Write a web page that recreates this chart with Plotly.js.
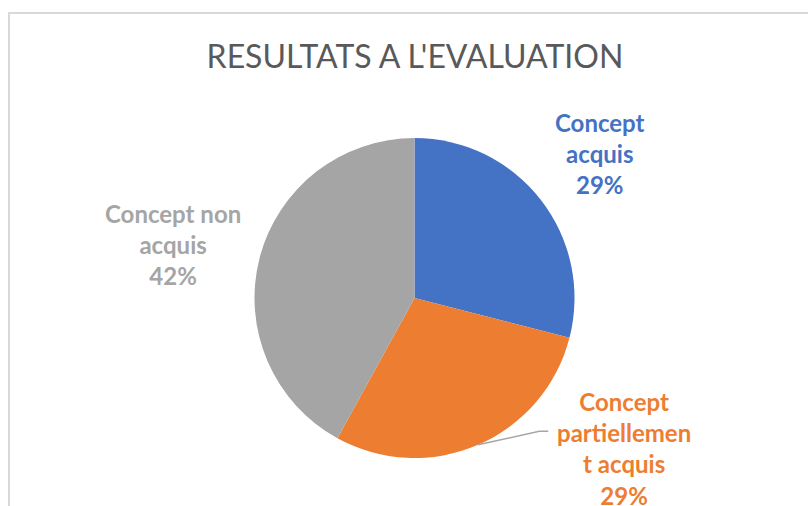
<!DOCTYPE html>
<html>
<head>
<meta charset="utf-8">
<script src="https://cdn.plot.ly/plotly-3.0.1.min.js"></script>
<style>
  body { margin: 0; background: #fff; }
  #chart { width: 808px; height: 506px; }
</style>
</head>
<body>
<div id="chart"></div>
<script>
// data
const categories = ['Concept acquis', 'Concept partiellement acquis', 'Concept non acquis'];
const shares = [29, 29, 42];
const labelLines = ['Concept<br>acquis', 'Concept<br>partiellemen<br>t acquis', 'Concept non<br>acquis'];
const sliceColors = ['#4472C4', '#ED7D31', '#A5A5A5'];

const W = 808, H = 506;
const cx = 414.5, cy = 298, R = 160;

// where each label sits: distance from centre and angle nudge (degrees)
const labelDist = [235, 258, 247];
const labelNudge = [0, -31, -2];

function px(x) { return x / W; }
function py(y) { return 1 - y / H; }

const total = shares.reduce((a, b) => a + b, 0);
let cum = 0;
const midAngles = shares.map(v => {
    const mid = (cum + v / 2) / total * 360;
    cum += v;
    return mid;
});

function polar(deg, r) {
    const a = deg * Math.PI / 180;
    return [cx + r * Math.sin(a), cy - r * Math.cos(a)];
}

const annotations = [];
const shapes = [];

categories.forEach((c, i) => {
    const [lx, ly] = polar(midAngles[i] + labelNudge[i], labelDist[i]);
    annotations.push({
        xref: 'paper', yref: 'paper',
        x: px(lx), y: py(ly),
        xanchor: 'center', yanchor: 'middle',
        text: labelLines[i] + '<br>' + Math.round(shares[i] / total * 100) + '%',
        showarrow: false,
        align: 'center',
        font: {family: 'Lato, "Open Sans", sans-serif', size: 24, color: sliceColors[i], weight: 'bold'}
    });
    // leader line only where the label was pushed off its slice
    if (labelNudge[i] !== 0 && Math.abs(labelNudge[i]) > 10) {
        const [ex, ey] = polar(midAngles[i], R);
        const kx = lx - 85, ky = ly - 17;
        shapes.push({
            type: 'path', xref: 'paper', yref: 'paper',
            path: `M ${px(ex)} ${py(ey)} L ${px(kx)} ${py(ky)} L ${px(kx + 9)} ${py(ky)}`,
            line: {color: '#A6A6A6', width: 1.5}
        });
    }
});

// chart frame
shapes.push({
    type: 'rect', xref: 'paper', yref: 'paper',
    x0: px(9), x1: 1.2, y0: -0.2, y1: py(13),
    line: {color: '#D9D9D9', width: 2},
    layer: 'below'
});

const data = [{
    type: 'pie',
    labels: categories,
    values: shares,
    marker: {colors: sliceColors, line: {width: 0}},
    sort: false,
    direction: 'clockwise',
    rotation: 0,
    textinfo: 'none',
    hoverinfo: 'none',
    showlegend: false,
    domain: {x: [px(cx - R), px(cx + R)], y: [py(cy + R), py(cy - R)]}
}];

const layout = {
    width: W, height: H,
    margin: {l: 0, r: 0, t: 0, b: 0},
    paper_bgcolor: '#fff',
    title: {
        text: "RESULTATS A L'EVALUATION",
        font: {family: 'Lato, "Open Sans", sans-serif', size: 32, color: '#595959'},
        x: px(415), xanchor: 'center',
        y: py(57), yanchor: 'middle', yref: 'container'
    },
    annotations: annotations,
    shapes: shapes,
    showlegend: false
};

Plotly.newPlot('chart', data, layout, {staticPlot: true});
</script>
</body>
</html>
